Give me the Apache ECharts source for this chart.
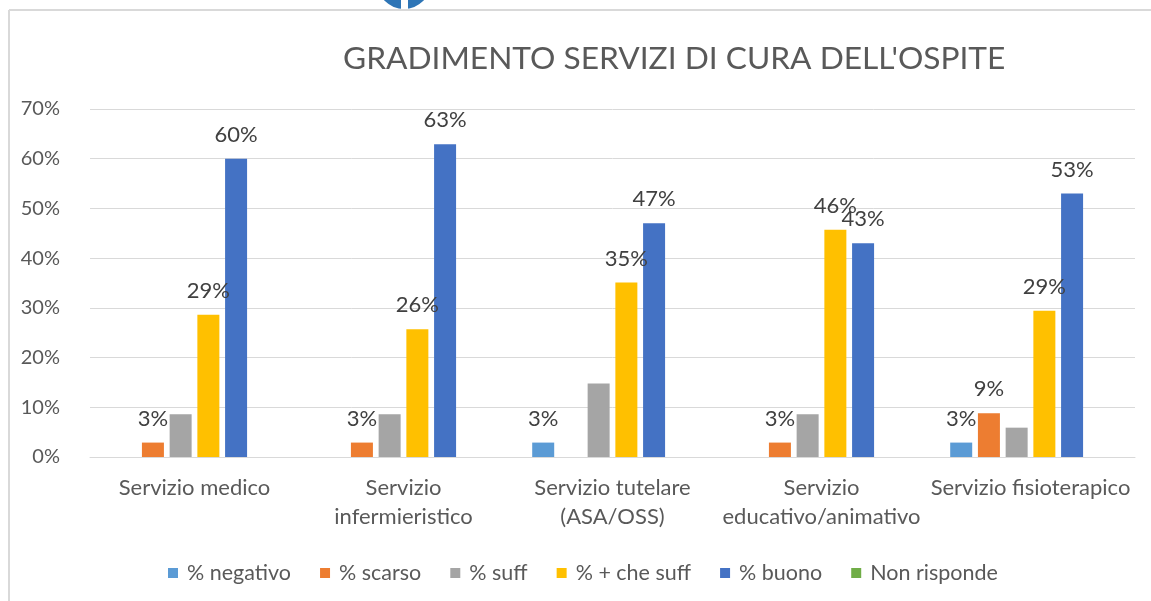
<!DOCTYPE html>
<html>
<head>
<meta charset="utf-8">
<script src="https://cdn.jsdelivr.net/npm/echarts@6/dist/echarts.min.js"></script>
<style>
html,body{margin:0;padding:0;background:#fff;}
#c{width:1151px;height:601px;}
</style>
</head>
<body>
<div id="c"></div>
<script>
const categories = ['Servizio medico', 'Servizio\ninfermieristico', 'Servizio tutelare\n(ASA/OSS)', 'Servizio\neducativo/animativo', 'Servizio fisioterapico'];
const seriesNames = ['% negativo', '% scarso', '% suff', '% + che suff', '% buono', 'Non risponde'];
const negativo = [0, 0, 2.9, 0, 2.9];
const scarso = [2.9, 2.9, 0, 2.9, 8.8];
const suff = [8.6, 8.6, 14.8, 8.6, 5.9];
const piuCheSuff = [28.6, 25.7, 35.1, 45.7, 29.4];
const buono = [60, 62.9, 47, 43, 53];
const nonRisponde = [0, 0, 0, 0, 0];
const yTicks = [0, 10, 20, 30, 40, 50, 60, 70];

const colors = ['#5B9BD5', '#ED7D31', '#A5A5A5', '#FFC000', '#4472C4', '#70AD47'];
const values = [negativo, scarso, suff, piuCheSuff, buono, nonRisponde];
const showLabel = [true, true, false, true, true, false];
const FONT = 'Lato';

const chart = echarts.init(document.getElementById('c'));
chart.setOption({
  animation: false,
  textStyle: { fontFamily: FONT },
  title: {
    text: "GRADIMENTO SERVIZI DI CURA DELL'OSPITE",
    left: 338, top: 38,
    textStyle: { fontFamily: FONT, fontSize: 31.7, fontWeight: 'normal', color: '#595959' }
  },
  grid: { left: 90, right: 16, top: 109, bottom: 144, containLabel: false },
  legend: {
    left: 163, top: 557,
    itemWidth: 10, itemHeight: 10, itemGap: 29,
    icon: 'rect',
    textStyle: { fontFamily: FONT, fontSize: 21.5, color: '#595959', padding: [0, 0, 0, 4] },
    data: seriesNames
  },
  xAxis: {
    type: 'category',
    data: categories,
    axisLine: { lineStyle: { color: '#d9d9d9', width: 1 } },
    axisTick: { show: false },
    axisLabel: { color: '#595959', fontSize: 22, lineHeight: 29, margin: 16, fontFamily: FONT, interval: 0 }
  },
  yAxis: {
    type: 'value',
    min: yTicks[0], max: yTicks[yTicks.length - 1], interval: 10,
    axisLine: { show: false },
    axisTick: { show: false },
    splitLine: { lineStyle: { color: '#d9d9d9', width: 1 } },
    axisLabel: { color: '#595959', fontSize: 20, margin: 30, fontFamily: FONT, formatter: v => v + '%' }
  },
  series: seriesNames.map((name, i) => ({
    name: name,
    type: 'bar',
    data: values[i],
    barWidth: 22,
    barGap: '26%',
    itemStyle: { color: colors[i] },
    label: {
      show: showLabel[i],
      position: 'top',
      distance: 13,
      fontSize: 22,
      fontFamily: FONT,
      color: '#404040',
      formatter: p => p.value > 0 ? Math.round(p.value) + '%' : ''
    }
  })),
  graphic: [
    { type: 'circle', shape: { cx: 404, cy: -18, r: 27 }, style: { fill: '#2E75B6' }, z: 1 },
    { type: 'rect', shape: { x: 401, y: 0, width: 7, height: 10 }, style: { fill: '#ffffff' }, z: 2 },
    { type: 'line', shape: { x1: 9, y1: 10, x2: 1151, y2: 10 }, style: { stroke: '#d9d9d9', lineWidth: 2 }, z: 3 },
    { type: 'line', shape: { x1: 9, y1: 10, x2: 9, y2: 601 }, style: { stroke: '#d9d9d9', lineWidth: 2 }, z: 3 }
  ]
});
</script>
</body>
</html>
